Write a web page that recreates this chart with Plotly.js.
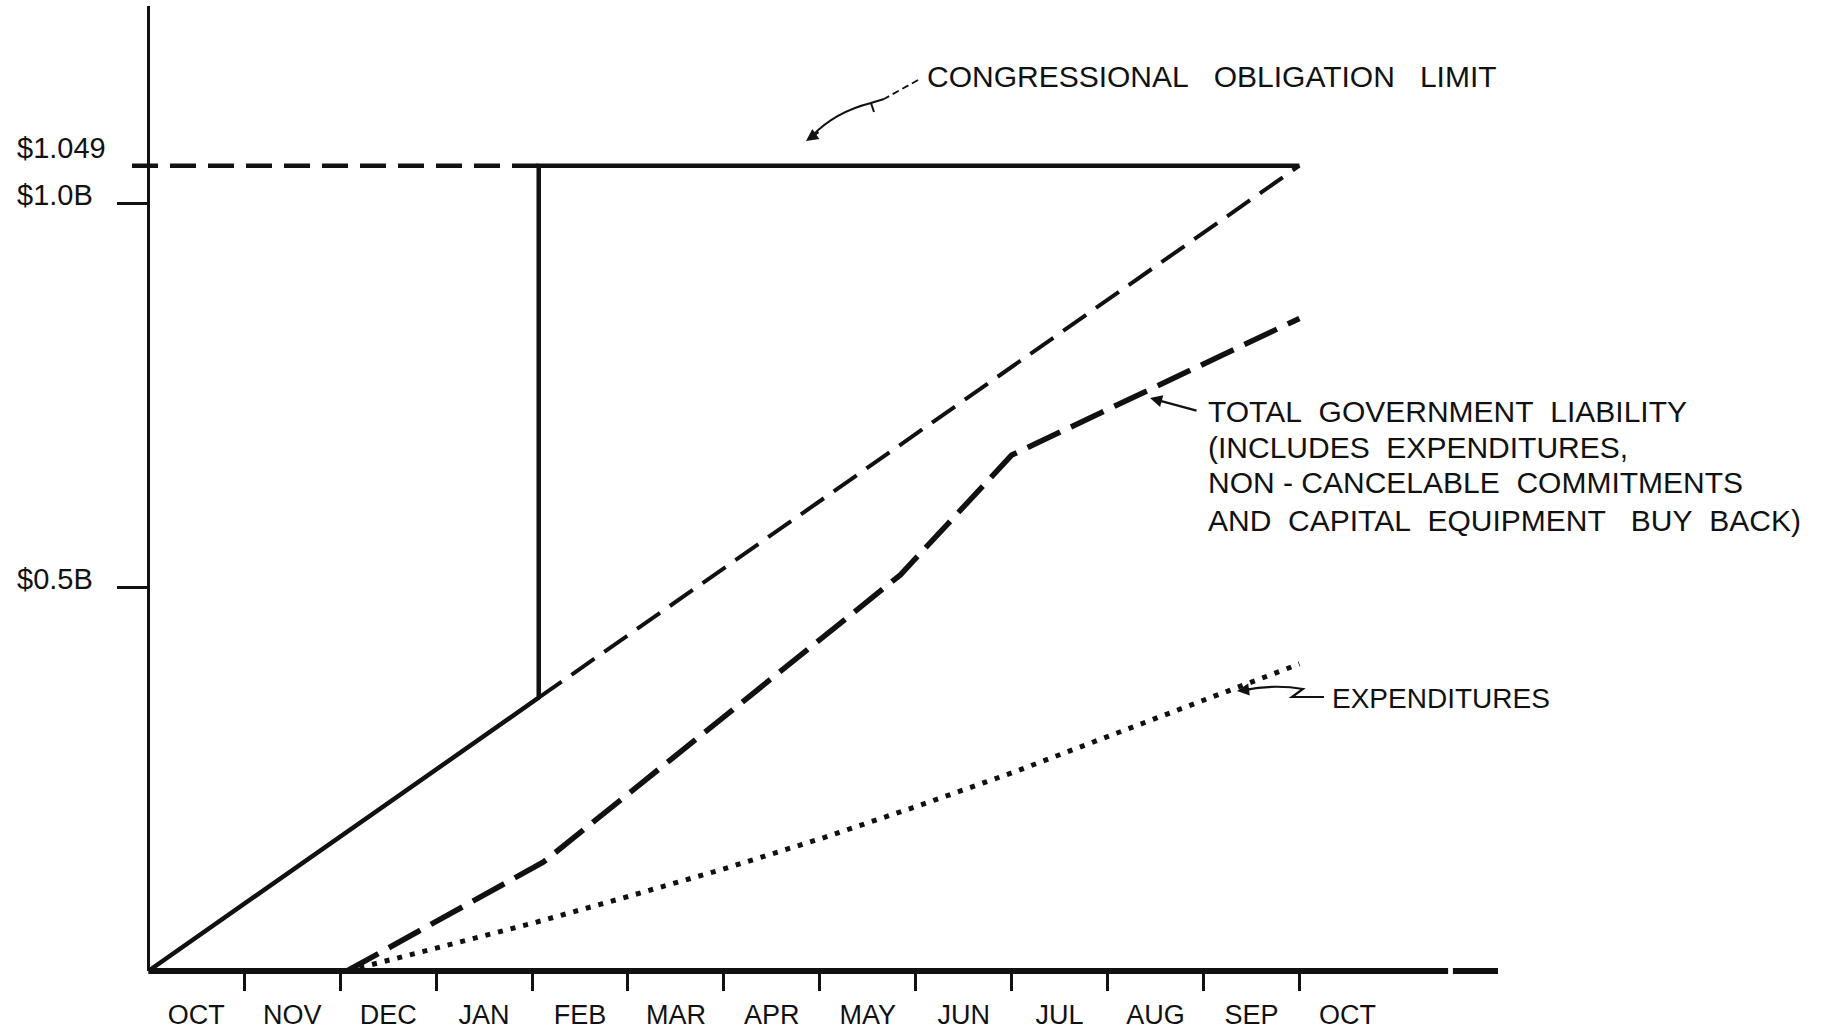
<!DOCTYPE html>
<html>
<head>
<meta charset="utf-8">
<script src="https://cdn.plot.ly/plotly-3.0.1.min.js"></script>
<style>html,body{margin:0;padding:0;background:#fff;}#chart{width:1824px;height:1033px;}</style>
</head>
<body>
<div id="chart"></div>
<script>
// ---- data (values in $ billions, x in months from start of October) ----
const monthLabels = ['OCT','NOV','DEC','JAN','FEB','MAR','APR','MAY','JUN','JUL','AUG','SEP','OCT'];
const monthLabelPos = [0.5,1.5,2.5,3.5,4.5,5.5,6.5,7.5,8.5,9.5,10.5,11.5,12.5];
const monthTickPos = [1,2,3,4,5,6,7,8,9,10,11,12];

const yTickVals = [0.5, 1.0];
const yLabelVals = [1.049, 1.0, 0.5];
const yLabelText = ['$1.049', '$1.0B', '$0.5B'];

const limitSolidX = [0, 4.07, 4.07, 12];
const limitSolidY = [0, 0.356, 1.049, 1.049];
const limitLeftX = [-0.17, 4.07];
const limitLeftY = [1.049, 1.049];
const planDiagX = [4.07, 12];
const planDiagY = [0.356, 1.049];

const liabilityX = [2.07, 4.12, 7.84, 9.0, 12];
const liabilityY = [0, 0.142, 0.516, 0.672, 0.85];

const expendX = [2.07, 3, 4, 5, 6, 7, 8, 9, 10, 11, 12];
const expendY = [0, 0.03, 0.062, 0.097, 0.133, 0.172, 0.214, 0.258, 0.305, 0.352, 0.40];

// ---- layout helpers (pixel -> paper) ----
const L = 132, T = 6, W = 1366, H = 965;
const xp = px => (px - L) / W;
const yp = py => (T + H - py) / H;

const FONT = 'Liberation Sans, Arial, sans-serif';
const INK = '#111';

const traces = [
  {x: limitSolidX, y: limitSolidY, mode: 'lines', line: {color: INK, width: 4.5}, hoverinfo: 'skip'},
  {x: limitLeftX, y: limitLeftY, mode: 'lines', line: {color: INK, width: 4.5, dash: '26px,12px'}, hoverinfo: 'skip'},
  {x: planDiagX, y: planDiagY, mode: 'lines', line: {color: INK, width: 4, dash: '28px,12px'}, hoverinfo: 'skip'},
  {x: liabilityX, y: liabilityY, mode: 'lines', line: {color: INK, width: 5.5, dash: '36px,12px'}, hoverinfo: 'skip'},
  {x: expendX, y: expendY, mode: 'lines', line: {color: INK, width: 5, dash: '5px,8px'}, hoverinfo: 'skip'},
  {x: monthLabelPos, y: monthLabelPos.map(() => null), xaxis: 'x2', yaxis: 'y', mode: 'lines', showlegend: false, hoverinfo: 'skip'}
];

const txt = (text, x, y, xanchor, extra) => Object.assign({
  text: text, xref: 'paper', yref: 'paper', x: xp(x), y: yp(y), xanchor: xanchor || 'left', yanchor: 'middle',
  showarrow: false, font: {family: FONT, size: 30, color: INK}
}, extra || {});

const arrow = (hx, hy, tx, ty) => ({
  text: '', xref: 'paper', yref: 'paper', x: xp(hx), y: yp(hy), ax: tx - hx, ay: ty - hy,
  showarrow: true, arrowhead: 2, arrowsize: 1.1, arrowwidth: 2.2, arrowcolor: INK
});

const annotations = [
  txt('CONGRESSIONAL\u00A0\u00A0\u00A0OBLIGATION\u00A0\u00A0\u00A0LIMIT', 925, 76),
  txt('TOTAL\u00A0\u00A0GOVERNMENT\u00A0\u00A0LIABILITY', 1206, 411),
  txt('(INCLUDES\u00A0\u00A0EXPENDITURES,', 1206, 447),
  txt('NON\u00A0-\u00A0CANCELABLE\u00A0\u00A0COMMITMENTS', 1206, 483),
  txt('AND\u00A0\u00A0CAPITAL\u00A0\u00A0EQUIPMENT\u00A0\u00A0\u00A0BUY\u00A0\u00A0BACK)', 1206, 520),
  txt('EXPENDITURES', 1330, 698, 'left', {font: {family: FONT, size: 28, color: INK}}),
  arrow(1150, 398, 1198, 411),
  arrow(1237, 691, 1252, 689),
  arrow(806, 141, 820, 131)
];
yLabelVals.forEach((v, i) => {
  annotations.push({text: yLabelText[i], xref: 'paper', yref: 'y', x: xp(15), y: v, xanchor: 'left', yanchor: 'middle',
    yshift: i === 0 ? 18 : 8, showarrow: false, font: {family: FONT, size: 29, color: INK}});
});

const shapes = [
  // x axis baseline (drawn as two pieces with a small break near the right end)
  {type: 'line', xref: 'x', yref: 'paper', x0: 0, x1: 13.55, y0: 0, y1: 0, line: {color: INK, width: 6}},
  {type: 'line', xref: 'x', yref: 'paper', x0: 13.6, x1: 14.07, y0: 0, y1: 0, line: {color: INK, width: 6}},
  // hand-drawn leader for the obligation-limit label
  {type: 'path', xref: 'paper', yref: 'paper',
   path: `M ${xp(918)} ${yp(80)} L ${xp(884)} ${yp(99)}`,
   line: {color: INK, width: 1.8, dash: '7px,4px'}},
  {type: 'path', xref: 'paper', yref: 'paper',
   path: `M ${xp(884)} ${yp(99)} L ${xp(871)} ${yp(103)} L ${xp(874)} ${yp(112)} M ${xp(871)} ${yp(103)} Q ${xp(835)} ${yp(112)} ${xp(812)} ${yp(136)}`,
   line: {color: INK, width: 2}},
  // leader for expenditures label
  {type: 'path', xref: 'paper', yref: 'paper',
   path: `M ${xp(1324)} ${yp(697)} L ${xp(1292)} ${yp(697)} L ${xp(1303)} ${yp(689)} Q ${xp(1275)} ${yp(684)} ${xp(1244)} ${yp(690)}`,
   line: {color: INK, width: 2.2}}
];

const layout = {
  width: 1824, height: 1033,
  margin: {l: L, r: 1824 - L - W, t: T, b: 1033 - T - H, pad: 0},
  paper_bgcolor: '#fff', plot_bgcolor: '#fff',
  showlegend: false,
  xaxis: {range: [-0.17, 14.07], tickvals: monthTickPos, ticks: 'outside', ticklen: 19, tickwidth: 3, tickcolor: INK,
    showticklabels: false, showgrid: false, zeroline: false, showline: false, fixedrange: true},
  xaxis2: {range: [-0.17, 14.07], overlaying: 'x', anchor: 'y', side: 'bottom', tickvals: monthLabelPos, ticktext: monthLabels,
    ticks: '', ticklabelstandoff: 25, showgrid: false, zeroline: false, showline: false,
    tickfont: {family: FONT, size: 27, color: INK}, fixedrange: true},
  yaxis: {range: [0, 1.257], anchor: 'free', position: xp(148), tickvals: yTickVals, ticks: 'outside', ticklen: 30, tickwidth: 3,
    tickcolor: INK, showticklabels: false, showgrid: false, zeroline: false, showline: true, linecolor: INK, linewidth: 3, fixedrange: true},
  annotations: annotations,
  shapes: shapes
};

Plotly.newPlot('chart', traces, layout, {displayModeBar: false, staticPlot: true});
</script>
</body>
</html>
